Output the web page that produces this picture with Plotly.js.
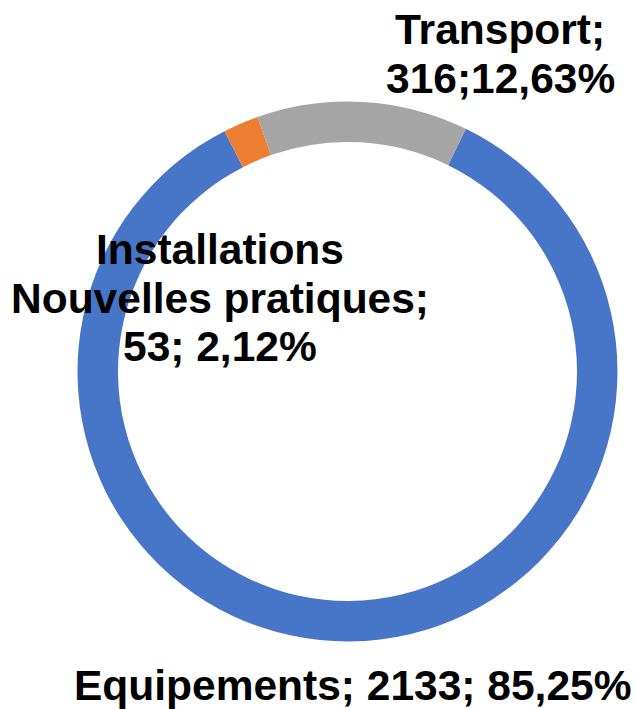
<!DOCTYPE html>
<html>
<head>
<meta charset="utf-8">
<script src="https://cdn.plot.ly/plotly-3.0.1.min.js"></script>
<style>html,body{margin:0;padding:0;background:#fff;}#chart{width:636px;height:709px;}</style>
</head>
<body>
<div id="chart"></div>
<script>
var labels = ['Equipements', 'Installations Nouvelles pratiques', 'Transport'];
var values = [2133, 53, 316];
var percents = ['85,25%', '2,12%', '12,63%'];
var colors = ['#4775C8', '#ED7D31', '#A5A5A5'];
// displayed label lines (as in the original chart)
var labelLines = [
  ['Equipements; ' + values[0] + '; ' + percents[0]],
  ['Installations', 'Nouvelles pratiques;', values[1] + '; ' + percents[1]],
  ['Transport;', values[2] + ';' + percents[2]]
];

var W = 636, H = 709;
// line centre positions in pixels (layout only)
var linePos = [
  [[352, 685]],
  [[220, 249], [220, 298], [220, 346]],
  [[500, 29], [500, 78]]
];

var annotations = [];
labelLines.forEach(function (lines, i) {
  lines.forEach(function (t, j) {
    annotations.push({
      text: '<b>' + t + '</b>',
      x: linePos[i][j][0] / W, y: 1 - linePos[i][j][1] / H,
      xref: 'paper', yref: 'paper', xanchor: 'center', yanchor: 'middle',
      showarrow: false,
      font: {family: '"Liberation Sans", Arial, sans-serif', size: 42.5, color: '#000'}
    });
  });
});

var cx = 347.5, cy = 371.5, r = 270;
var trace = {
  type: 'pie',
  labels: labels,
  values: values,
  hole: 0.85,
  sort: false,
  direction: 'clockwise',
  rotation: 26,
  textinfo: 'none',
  hoverinfo: 'label+value+percent',
  marker: {colors: colors, line: {width: 0}},
  domain: {x: [(cx - r) / W, (cx + r) / W], y: [1 - (cy + r) / H, 1 - (cy - r) / H]},
  showlegend: false
};

var layout = {
  width: W, height: H,
  margin: {l: 0, r: 0, t: 0, b: 0},
  paper_bgcolor: '#fff',
  showlegend: false,
  annotations: annotations
};

Plotly.newPlot('chart', [trace], layout, {displayModeBar: false, staticPlot: true});
</script>
</body>
</html>
